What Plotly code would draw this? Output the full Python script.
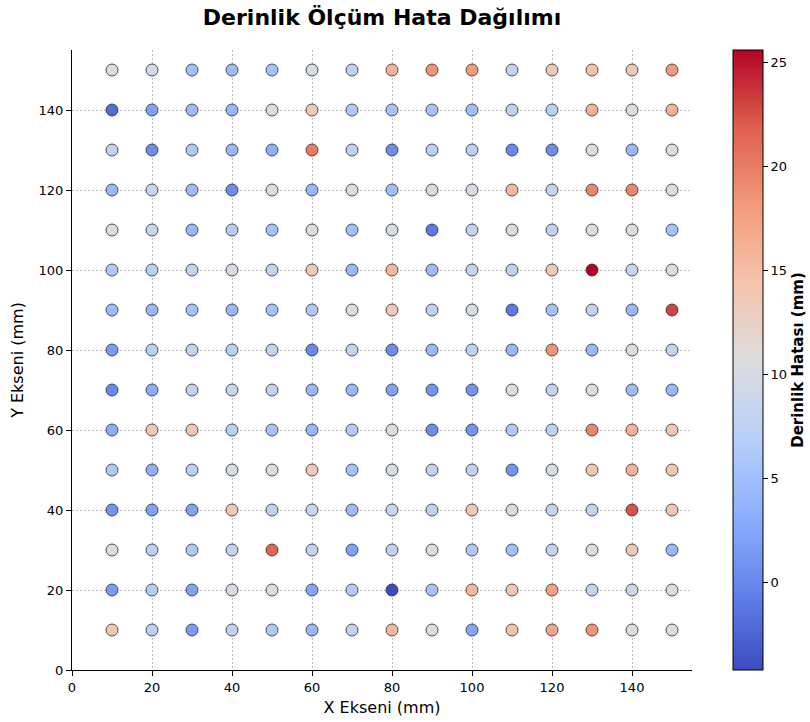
import plotly.graph_objects as go

x_positions = [10, 20, 30, 40, 50, 60, 70, 80, 90, 100, 110, 120, 130, 140, 150]
y_positions = [150, 140, 130, 120, 110, 100, 90, 80, 70, 60, 50, 40, 30, 20, 10]

# depth error (mm), one row per y position (top to bottom), columns x=10..150
err_150 = [10.5, 9.5, 5.0, 4.5, 5.5, 10.0, 7.5, 16.0, 18.5, 18.0, 8.0, 14.0, 14.5, 14.0, 18.0]
err_140 = [-2.0, 2.0, 4.5, 4.0, 10.5, 13.5, 6.0, 5.5, 5.5, 5.0, 7.5, 7.0, 16.0, 10.5, 16.0]
err_130 = [8.0, 0.5, 6.0, 4.0, 3.5, 20.0, 7.5, 0.5, 7.0, 7.0, 0.0, 0.5, 10.5, 4.0, 10.5]
err_120 = [4.0, 8.5, 4.5, 0.5, 10.5, 4.0, 10.5, 5.0, 10.0, 10.0, 15.5, 8.0, 19.5, 19.5, 10.5]
err_110 = [10.5, 8.5, 4.0, 6.5, 5.5, 10.5, 5.0, 10.0, -1.0, 8.0, 10.0, 7.5, 10.5, 10.5, 5.5]
err_100 = [6.0, 7.0, 8.0, 10.0, 8.0, 13.5, 4.0, 15.5, 4.5, 8.0, 7.5, 13.5, 25.6, 8.5, 10.5]
err_90 = [4.5, 4.0, 5.5, 4.0, 5.5, 6.0, 10.5, 13.5, 7.5, 10.0, -1.0, 5.5, 8.0, 4.0, 23.0]
err_80 = [1.5, 7.0, 8.0, 7.0, 8.0, 0.0, 8.0, 0.5, 4.0, 7.5, 4.0, 18.5, 4.0, 10.5, 8.0]
err_70 = [0.0, 3.0, 8.0, 8.5, 8.0, 4.0, 4.0, 2.0, 1.0, 1.0, 10.5, 8.0, 10.5, 4.5, 4.0]
err_60 = [3.0, 14.0, 14.0, 7.0, 5.5, 4.0, 6.5, 10.5, 0.5, 1.0, 6.0, 7.5, 19.5, 16.0, 14.0]
err_50 = [6.0, 3.5, 7.0, 10.0, 10.5, 13.5, 5.5, 10.0, 8.0, 7.5, 1.0, 10.0, 14.0, 16.0, 14.0]
err_40 = [1.0, 2.0, 2.0, 14.0, 7.5, 8.5, 4.5, 8.5, 7.5, 14.0, 10.0, 8.0, 8.0, 22.5, 14.0]
err_30 = [10.5, 7.0, 6.0, 8.0, 21.5, 8.0, 2.0, 7.5, 10.5, 6.0, 5.0, 8.0, 10.5, 14.0, 4.0]
err_20 = [1.5, 6.5, 2.0, 10.0, 10.5, 2.5, 6.5, -4.2, 5.5, 15.5, 14.0, 17.5, 8.0, 9.0, 10.5]
err_10 = [14.0, 7.0, 1.5, 7.5, 6.0, 4.0, 8.0, 15.5, 10.5, 2.5, 14.5, 17.0, 18.5, 10.5, 10.5]

error_rows = [err_150, err_140, err_130, err_120, err_110, err_100, err_90, err_80,
              err_70, err_60, err_50, err_40, err_30, err_20, err_10]

xs, ys, vals = [], [], []
for yv, row in zip(y_positions, error_rows):
    for xv, v in zip(x_positions, row):
        xs.append(xv)
        ys.append(yv)
        vals.append(v)

coolwarm = [
    [0.0, "#3b4cc0"], [0.125, "#6282ea"], [0.25, "#8db0fe"], [0.375, "#b8d0f9"],
    [0.5, "#dddddd"], [0.625, "#f5c4ac"], [0.75, "#f49a7b"], [0.875, "#de604d"],
    [1.0, "#b40426"],
]

font_family = "DejaVu Sans, Arial, sans-serif"

fig = go.Figure(go.Scatter(
    x=xs, y=ys, mode="markers",
    marker=dict(
        size=12, color=vals, colorscale=coolwarm,
        cmin=min(vals), cmax=max(vals),
        line=dict(color="rgba(40,40,40,0.8)", width=1),
        colorbar=dict(
            x=1.066, xanchor="left", y=0.5, yanchor="middle", len=1.0, lenmode="fraction",
            thickness=30, thicknessmode="pixels", xpad=0, ypad=0,
            outlinecolor="black", outlinewidth=1,
            tickvals=[0, 5, 10, 15, 20, 25], ticks="outside", ticklen=5,
            tickcolor="black", tickfont=dict(size=13, color="black", family=font_family),
            title=dict(text="<b>Derinlik Hatası (mm)</b>", side="right",
                       font=dict(size=15, color="black", family=font_family)),
        ),
    ),
    showlegend=False,
))

fig.update_layout(
    width=810, height=722,
    margin=dict(l=72, r=118, t=50, b=52, autoexpand=False),
    paper_bgcolor="white", plot_bgcolor="white",
    font=dict(family=font_family, color="black"),
    title=dict(text="<b>Derinlik Ölçüm Hata Dağılımı</b>", x=382 / 810, xanchor="center",
               y=1 - 17 / 722, yanchor="middle", automargin=False,
               font=dict(size=22, color="black")),
)

axis_common = dict(
    range=[0, 155], tickvals=[0, 20, 40, 60, 80, 100, 120, 140],
    showgrid=True, gridcolor="rgba(170,170,170,0.8)", griddash="2px,2px", gridwidth=1,
    zeroline=False, showline=True, linecolor="black", linewidth=1,
    ticks="outside", ticklen=5, tickcolor="black", automargin=False,
    tickfont=dict(size=13, color="black"),
)
fig.update_xaxes(**axis_common, title=dict(text="X Ekseni (mm)", font=dict(size=16), standoff=8))
fig.update_yaxes(**axis_common, title=dict(text="Y Ekseni (mm)", font=dict(size=16), standoff=10))

fig.write_html(
    "out.html",
    config={"displayModeBar": False},
    post_script="document.body.style.margin='0';document.body.style.overflow='hidden';",
)
